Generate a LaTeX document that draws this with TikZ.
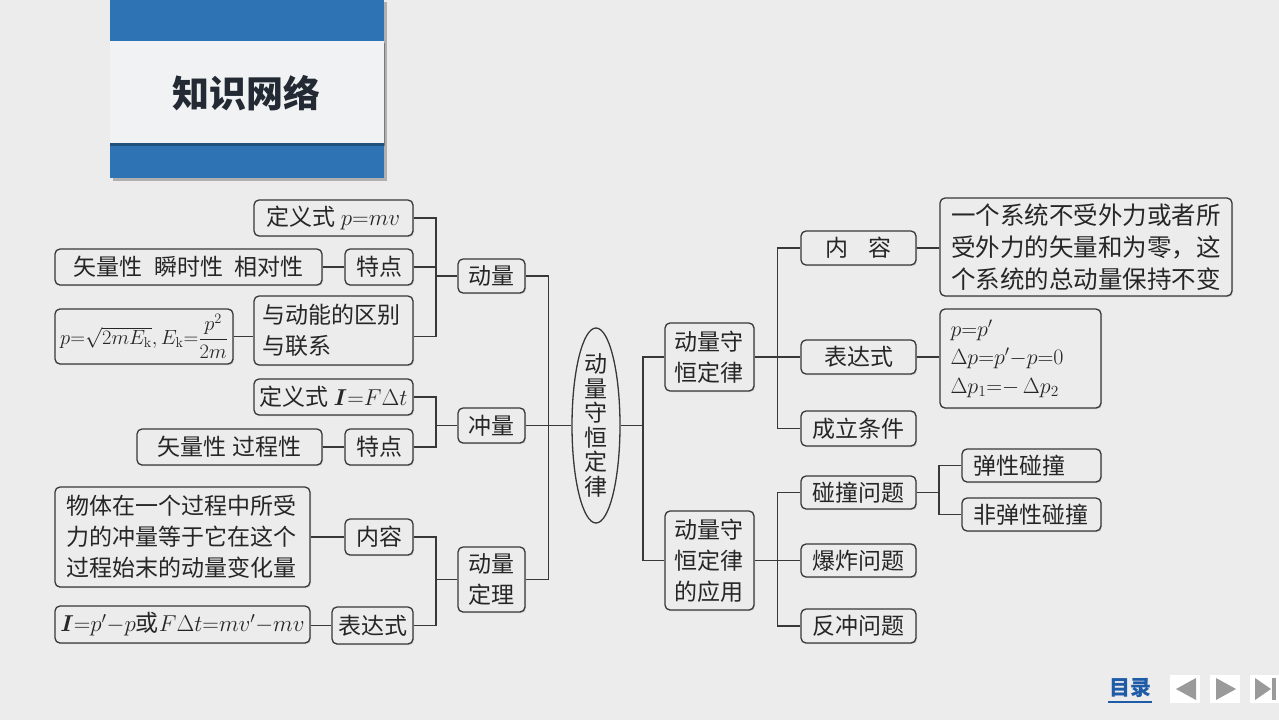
\RequirePackage{fix-cm}
\documentclass[tikz,border=0pt]{standalone}
\usepackage{amsmath}
\usepackage[no-math]{fontspec}
\setmainfont{Noto Sans CJK SC}
\usetikzlibrary{shapes.geometric,shadows}
\definecolor{bg}{HTML}{ECECEC}
\definecolor{boxc}{HTML}{383838}
\definecolor{txtc}{HTML}{262626}
\definecolor{hblue}{HTML}{2E73B4}
\definecolor{hpanel}{HTML}{F1F2F4}
\definecolor{titlec}{HTML}{232A33}
\definecolor{navblue}{HTML}{1F5CA8}
\definecolor{navgray}{HTML}{9A9A9A}
\newcommand\fs[2]{\fontsize{#1}{#2}\selectfont}
\begin{document}
\begin{tikzpicture}[x=1pt,y=-1pt,
  box/.style={draw=boxc, line width=1.3pt, rounded corners=5pt, fill=bg,
    inner sep=0pt, text=txtc, font=\fs{23}{31},
    drop shadow={opacity=0.25, shadow xshift=1pt, shadow yshift=-1.2pt}},
  sz/.style 2 args={minimum width=#1pt, minimum height=#2pt},
  conn/.style={draw=boxc, line width=1.3pt}]
\useasboundingbox (0,0) rectangle (1279,720);
\fill[bg] (0,0) rectangle (1279,720);
% header
\fill[black, opacity=0.25] (113,2) rectangle (387,181);
\fill[hblue] (110,0) rectangle (384,178);
\fill[black, opacity=0.3] (110,43) rectangle (385,146);
\fill[hpanel] (110,41) rectangle (384,143);
\node[font=\fs{37}{37}\bfseries, text=titlec] (title) at (246,93) {知识网络};

% left: 动量
\node[box,sz={159}{36}] (def1) at (333.5,218) {定义式 $p{=}mv$};
\node[box,sz={267}{36}] (vec1) at (188.5,267) {矢量性\enspace 瞬时性\enspace 相对性};
\node[box,sz={68}{36}] (td1) at (379,267) {特点};
\node[box,sz={178}{55},font=\fs{20.5}{24}] (formula) at (144,336.5) {$p{=}\sqrt{2mE_{\mathrm k}},E_{\mathrm k}{=}\dfrac{p^2}{2m}$};
\node[box,sz={159}{69},text width=142pt,align=left] (yu) at (333.5,330.5) {与动能的区别\\与联系};
\node[box,sz={67}{34}] (dl) at (491.5,276) {动量};
% 冲量
\node[box,sz={159}{36}] (def2) at (333.5,397) {定义式 $\boldsymbol{I}{=}F\Delta t$};
\node[box,sz={185}{36}] (vec2) at (229.5,447) {矢量性 过程性};
\node[box,sz={68}{36}] (td2) at (379,447) {特点};
\node[box,sz={67}{35}] (cl) at (491.5,425.5) {冲量};
% 动量定理
\node[box,sz={255}{100},text width=232pt,align=left] (content) at (182.5,537) {物体在一个过程中所受\\力的冲量等于它在这个\\过程始末的动量变化量};
\node[box,sz={68}{36}] (nr) at (379,537) {内容};
\node[box,sz={255}{37}] (expr) at (182.5,624.5) {$\boldsymbol{I}{=}p'{-}p$或$F\Delta t{=}mv'{-}mv$};
\node[box,sz={81}{37}] (bds) at (372.5,625.5) {表达式};
\node[box,sz={67}{65},align=center] (dlth) at (491.5,579.5) {动量\\定理};

% centre ellipse
\node[draw=boxc, line width=1.3pt, ellipse, fill=bg, minimum width=48pt, minimum height=195pt, inner sep=0pt] (ell) at (596,425.5) {};
\node[font=\fs{23}{24.6}, text=txtc, align=center, inner sep=0pt] (elltext) at (ell) {动\\量\\守\\恒\\定\\律};

% right
\node[box,sz={89}{68},text width=70pt,align=left] (sh) at (709.5,357) {动量守\\恒定律};
\node[box,sz={89}{99},text width=70pt,align=left] (yy) at (709.5,560.5) {动量守\\恒定律\\的应用};
\node[box,sz={115}{34}] (nr2) at (858.5,248) {内\hspace{0.9em}容};
\node[box,sz={292}{98},font=\fs{24.5}{32},text width=270pt,align=left] (txt) at (1086,247) {一个系统不受外力或者所\\受外力的矢量和为零，这\\个系统的总动量保持不变};
\node[box,sz={115}{34}] (bds2) at (858.5,357) {表达式};
\node[box,sz={161}{99},font=\fs{22}{28.5},text width=140pt,align=left] (fm) at (1020.5,358.5) {$p{=}p'$\\$\Delta p{=}p'{-}p{=}0$\\$\Delta p_1{=}{-}\,\Delta p_2$};
\node[box,sz={115}{35}] (cltj) at (858.5,428.5) {成立条件};
\node[box,sz={115}{33}] (pz) at (858.5,492.5) {碰撞问题};
\node[box,sz={115}{33}] (bz) at (858.5,560.5) {爆炸问题};
\node[box,sz={115}{34}] (fc) at (858.5,626) {反冲问题};
\node[box,sz={139}{33},text width=117pt,align=left] (tx) at (1031.5,465.5) {弹性碰撞};
\node[box,sz={139}{33},text width=117pt,align=left] (ftx) at (1031.5,514.5) {非弹性碰撞};

% bracket points
\coordinate (b1) at (436,276);
\coordinate (b2) at (436,425.5);
\coordinate (b3) at (436,579.5);
\coordinate (bm) at (548.5,425.5);
\coordinate (br) at (643,425.5);
\coordinate (bs) at (777.5,357);
\coordinate (ba) at (777.5,560.5);
\coordinate (bc) at (939,492.5);

% connectors left
\draw[conn] (def1.east) -| (b1) |- (yu.east |- formula);
\draw[conn] (td1.east) -- (td1.east -| b1);
\draw[conn] (b1) -- (dl.west);
\draw[conn] (vec1) -- (td1);
\draw[conn] (formula.east) -- (yu.west |- formula);
\draw[conn] (def2.east) -| (b2) |- (td2.east);
\draw[conn] (b2) -- (cl.west);
\draw[conn] (vec2) -- (td2);
\draw[conn] (nr.east) -| (b3) |- (bds.east);
\draw[conn] (b3) -- (dlth.west);
\draw[conn] (content.east |- nr) -- (nr.west);
\draw[conn] (expr.east |- bds) -- (bds.west);
\draw[conn] (dl.east) -| (bm) |- (dlth.east);
\draw[conn] (cl.east) -- (bm) -- (ell.west);
% connectors right
\draw[conn] (ell.east) -- (br);
\draw[conn] (sh.west) -| (br) |- (yy.west);
\draw[conn] (nr2.west) -| (bs) |- (cltj.west);
\draw[conn] (sh.east) -- (bds2.west);
\draw[conn] (nr2.east) -- (txt.west |- nr2.east);
\draw[conn] (bds2.east) -- (fm.west |- bds2.east);
\draw[conn] (pz.west) -| (ba) |- (fc.west);
\draw[conn] (yy.east) -- (bz.west);
\draw[conn] (pz.east) -- (bc);
\draw[conn] (tx.west) -| (bc) |- (ftx.west);

% navigation
\node[font=\fs{21}{21}\bfseries, text=navblue, inner sep=0pt] (toc) at (1130,688) {目录};
\draw[navblue, line width=1.3pt] (1108,702) -- (1152,702);
\fill[white] (1170,675) rectangle (1200,703);
\fill[navgray] (1176,689) -- (1196,678) -- (1196,700) -- cycle;
\fill[white] (1210,675) rectangle (1240,703);
\fill[navgray] (1216,678) -- (1216,700) -- (1236,689) -- cycle;
\fill[white] (1250,675) rectangle (1279,703);
\fill[navgray] (1255,678) -- (1255,700) -- (1271,689) -- cycle;
\fill[navgray] (1272,678) rectangle (1276,700);
\end{tikzpicture}
\end{document}
